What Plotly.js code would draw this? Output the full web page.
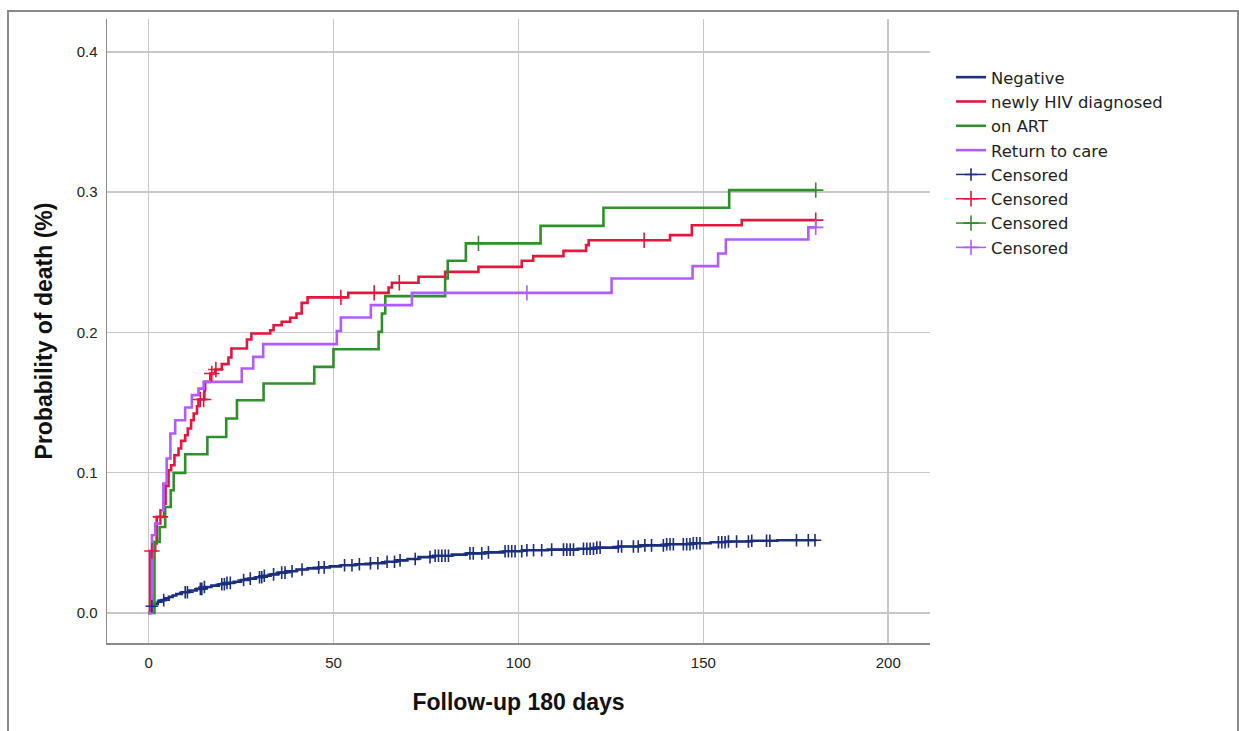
<!DOCTYPE html>
<html>
<head>
<meta charset="utf-8">
<script src="https://cdn.plot.ly/plotly-3.0.1.min.js"></script>
<style>
  html, body { margin: 0; padding: 0; background: #ffffff; }
  #chart { width: 1239px; height: 731px; }
</style>
</head>
<body>
<div id="chart"></div>
<script>
// ---- Data ----
var groupNames = ["Negative", "newly HIV diagnosed", "on ART", "Return to care"];
var censorLabel = "Censored";

// Negative: event times (days) and cumulative probability of death
var negDays = [0, 0.5, 1.5, 2.5, 3.5, 4.5, 5.5, 6.5, 7.5, 9, 11, 13, 15, 17, 19, 21, 23, 25, 27, 29, 31, 33, 35, 37, 40, 43, 46, 49, 52, 56, 60, 64, 67, 70, 73, 77, 82, 86, 91, 96, 101, 108, 116, 121, 127, 133, 140, 147, 152, 156, 163, 170, 180.6];
var negProb = [0, 0.0048, 0.0065, 0.0080, 0.0092, 0.0104, 0.0115, 0.0125, 0.0135, 0.0148, 0.0160, 0.0172, 0.0185, 0.0195, 0.0205, 0.0215, 0.0223, 0.0235, 0.0245, 0.0255, 0.0265, 0.0275, 0.0288, 0.0298, 0.0310, 0.0318, 0.0325, 0.0332, 0.0340, 0.0348, 0.0355, 0.0365, 0.0375, 0.0385, 0.0398, 0.0408, 0.0416, 0.0425, 0.0432, 0.0440, 0.0447, 0.0452, 0.0458, 0.0466, 0.0474, 0.0482, 0.0490, 0.0497, 0.0504, 0.0510, 0.0515, 0.0519, 0.0519];
var negCensor = [0.9, 4.1, 9.9, 10.5, 14, 14.4, 15.1, 19.8, 20.5, 21.2, 22.1, 25.7, 27.5, 30, 30.6, 31.3, 33.8, 36, 36.9, 38.8, 41.5, 46, 47.5, 53, 55, 57, 60, 62, 64.5, 66.5, 68, 72.1, 76.1, 77.5, 78.4, 79.3, 80.2, 81.1, 86.9, 87.8, 90.1, 91.9, 96.4, 97.3, 98.2, 99.1, 100.9, 102.3, 104.1, 106.3, 109, 112.2, 113.1, 114, 114.9, 117.6, 118.5, 119.4, 120.3, 121.2, 122.1, 127, 127.9, 131.1, 132.4, 134.2, 136, 139.2, 140.1, 141, 141.9, 144.6, 145.5, 146.4, 147.3, 148.2, 149.1, 154.1, 155, 155.9, 156.8, 159, 162.2, 163.1, 167.1, 168, 175.2, 178.4, 180.2];

// newly HIV diagnosed
var newDays = [0, 0.4, 1.8, 2.2, 4.2, 4.6, 5.4, 6.1, 7.0, 8.1, 8.8, 9.9, 10.6, 11.5, 12.2, 13.1, 13.5, 15.1, 15.3, 16.7, 18.0, 19.8, 21.6, 22.4, 26.6, 27.8, 32.9, 33.8, 36.0, 38.3, 40.0, 41.4, 43.0, 54.0, 64.9, 65.8, 73.0, 80.2, 89.2, 100.9, 104.0, 112.2, 118.3, 119.0, 141.0, 146.9, 160.4, 180.5];
var newProb = [0, 0.0442, 0.0495, 0.0685, 0.0780, 0.0906, 0.1018, 0.1053, 0.1125, 0.1173, 0.1227, 0.1267, 0.1315, 0.1374, 0.1422, 0.1474, 0.1522, 0.1588, 0.1648, 0.1708, 0.1736, 0.1774, 0.1822, 0.1886, 0.1950, 0.1993, 0.2016, 0.2052, 0.2076, 0.2105, 0.2135, 0.2211, 0.2250, 0.2282, 0.2321, 0.2354, 0.2397, 0.2432, 0.2468, 0.2511, 0.2544, 0.2582, 0.2623, 0.2658, 0.2694, 0.2765, 0.2801, 0.2801];
var newCensor = [0.9, 3.2, 14.0, 14.9, 17.1, 18.2, 52.0, 61.0, 67.8, 134.0, 180.4];

// on ART
var artDays = [0, 1.6, 3.0, 4.5, 6.0, 6.8, 9.9, 15.9, 21.0, 23.9, 31.1, 44.8, 50.0, 62.2, 63.1, 64.0, 80.2, 80.9, 85.8, 106.0, 123.0, 157.0, 180.6];
var artProb = [0, 0.0507, 0.0613, 0.0756, 0.0875, 0.0999, 0.1132, 0.1255, 0.1387, 0.1517, 0.1636, 0.1755, 0.1880, 0.2004, 0.2135, 0.2259, 0.2385, 0.2511, 0.2635, 0.2760, 0.2889, 0.3015, 0.3015];
var artCensor = [89.2, 180.4];

// Return to care
var retDays = [0, 0.9, 1.8, 3.2, 4.0, 4.9, 5.9, 7.2, 9.9, 11.7, 13.5, 14.9, 25.2, 28.3, 31.0, 50.9, 52.0, 60.1, 71.2, 125.2, 147.1, 154.0, 156.1, 178.4, 180.6];
var retProb = [0, 0.0554, 0.0637, 0.0733, 0.0923, 0.1101, 0.1280, 0.1374, 0.1465, 0.1553, 0.1600, 0.1648, 0.1743, 0.1826, 0.1917, 0.2011, 0.2107, 0.2195, 0.2282, 0.2385, 0.2473, 0.2563, 0.2663, 0.2749, 0.2749];
var retCensor = [102.3, 180.4];

var xTicks = [0, 50, 100, 150, 200];
var yTicks = [0.0, 0.1, 0.2, 0.3, 0.4];

// ---- Styles ----
var colors = ["#1b2f7e", "#e3173e", "#2f8f2a", "#b15cff"];
var FONT = "Liberation Sans, Arial, Helvetica, sans-serif";
var LEGEND_FONT = "DejaVu Sans, Liberation Sans, Arial, sans-serif";

function stepAt(days, probs, t) {
  var v = probs[0];
  for (var i = 0; i < days.length; i++) { if (days[i] <= t) v = probs[i]; }
  return v;
}
function censorTrace(days, probs, cdays, color, size) {
  var xs = [], ys = [];
  cdays.forEach(function (t) { xs.push(t, null); ys.push(stepAt(days, probs, t), null); });
  return {
    x: xs, y: ys, type: "scatter", mode: "lines+markers", name: censorLabel,
    connectgaps: false, hoverinfo: "x+y",
    line: { color: color, width: 1.5 },
    marker: { symbol: "cross-thin", size: size, color: color, line: { color: color, width: 1.6 } }
  };
}
function curve(days, probs, name, color) {
  return { x: days, y: probs, type: "scatter", mode: "lines", name: name,
           line: { shape: "hv", color: color, width: 2.6 } };
}

var series = [[negDays, negProb, negCensor], [newDays, newProb, newCensor], [artDays, artProb, artCensor], [retDays, retProb, retCensor]];
var traces = [];
series.forEach(function (s, i) { traces.push(curve(s[0], s[1], groupNames[i], colors[i])); });
series.forEach(function (s, i) { traces.push(censorTrace(s[0], s[1], s[2], colors[i], i === 0 ? 9 : 11)); });

// pixel helpers for layout (plot area: x 107..930, y 19..643)
var L = 107, R = 930, T = 19, B = 643;
function px2paperX(p) { return (p - L) / (R - L); }
function px2paperY(p) { return (B - p) / (B - T); }

var layout = {
  width: 1239, height: 731,
  margin: { l: L, r: 1239 - R, t: T, b: 731 - B, pad: 0 },
  paper_bgcolor: "#ffffff", plot_bgcolor: "#ffffff",
  font: { family: FONT, color: "#1e1e1e", size: 15 },
  showlegend: true,
  legend: {
    x: px2paperX(951), xanchor: "left", y: px2paperY(60), yanchor: "top",
    font: { family: LEGEND_FONT, size: 16.4, color: "#1e1e1e" },
    bgcolor: "rgba(0,0,0,0)", borderwidth: 0, traceorder: "normal", itemclick: false
  },
  xaxis: {
    range: [-11.24, 211.3], tickvals: xTicks, ticktext: xTicks.map(String),
    showgrid: true, gridcolor: "#c8c8c8", gridwidth: 1.5, zeroline: false,
    showline: true, linecolor: "#8a8a8a", linewidth: 1.5, mirror: false, ticks: "",
    tickfont: { family: FONT, size: 15, color: "#222" }, ticklabelstandoff: 5,
    title: { text: "Follow-up 180 days", font: { family: FONT, size: 23, weight: "bold", color: "#111" }, standoff: 24 },
    fixedrange: true
  },
  yaxis: {
    range: [-0.0214, 0.4235], tickvals: yTicks, ticktext: yTicks.map(function (v) { return v.toFixed(1); }),
    showgrid: true, gridcolor: "#c8c8c8", gridwidth: 1.5, zeroline: false,
    showline: true, linecolor: "#8a8a8a", linewidth: 1.5, mirror: false, ticks: "",
    tickfont: { family: FONT, size: 15, color: "#222" }, ticklabelstandoff: 5,
    title: { text: "Probability of death (%)", font: { family: FONT, size: 23, weight: "bold", color: "#111" }, standoff: 17 },
    fixedrange: true
  },
  shapes: [{
    type: "rect", xref: "paper", yref: "paper",
    x0: px2paperX(8), x1: px2paperX(1238), y0: px2paperY(745), y1: px2paperY(11),
    line: { color: "#8a8a8a", width: 2 }, fillcolor: "rgba(0,0,0,0)", layer: "below"
  }]
};

Plotly.newPlot("chart", traces, layout, { displayModeBar: false, staticPlot: true });
</script>
</body>
</html>
